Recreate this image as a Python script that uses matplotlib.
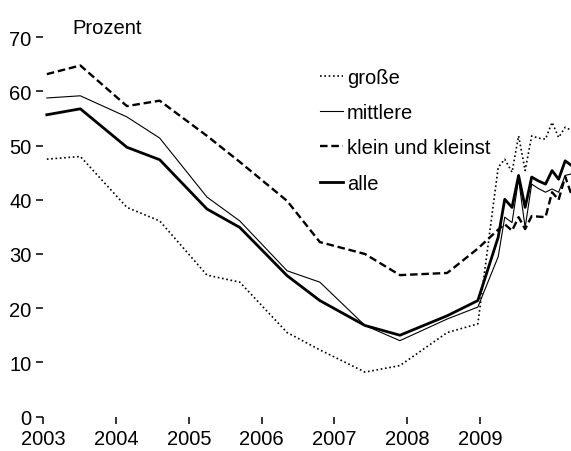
import matplotlib
matplotlib.use("Agg")
import matplotlib.pyplot as plt

# survey dates as decimal years: half-yearly up to 2008, monthly after that
dates = [2003.05, 2003.51, 2004.15, 2004.60, 2005.25, 2005.70, 2006.35, 2006.80,
         2007.42, 2007.90, 2008.55, 2008.97,
         2009.25, 2009.34, 2009.44, 2009.53, 2009.62, 2009.71, 2009.80, 2009.90,
         2009.99, 2010.08, 2010.17, 2010.26]

grosse = [47.5, 48.0, 38.6, 36.1, 26.1, 24.8, 15.5, 12.3, 8.2, 9.4, 15.5, 17.1,
          46.0, 47.5, 45.1, 51.8, 45.4, 51.8, 51.4, 51.2, 54.3, 51.5, 53.4, 52.8]
mittlere = [58.8, 59.2, 55.3, 51.4, 40.5, 36.1, 26.9, 24.8, 16.8, 14.0, 18.0, 20.2,
            29.5, 36.8, 35.8, 43.8, 34.9, 42.9, 42.1, 41.4, 42.0, 41.4, 44.5, 44.8]
klein = [63.2, 64.8, 57.3, 58.3, 51.8, 47.0, 39.8, 32.2, 30.0, 26.1, 26.5, 31.0,
         34.5, 35.5, 34.3, 36.8, 34.6, 37.0, 36.9, 36.8, 41.4, 40.0, 44.3, 40.8]
alle = [55.7, 56.8, 49.7, 47.4, 38.3, 34.9, 26.0, 21.4, 16.8, 15.0, 18.6, 21.4,
        33.1, 40.1, 38.6, 44.5, 38.6, 44.2, 43.5, 42.9, 45.4, 43.8, 47.2, 46.3]

years = [2003, 2004, 2005, 2006, 2007, 2008, 2009]
y_ticks = [0, 10, 20, 30, 40, 50, 60, 70]

plt.rcParams['font.family'] = ['Liberation Sans', 'DejaVu Sans']
plt.rcParams['font.size'] = 14.5

fig = plt.figure(figsize=(5.71, 4.52), dpi=100)
ax = fig.add_axes([43.2 / 571, 34.5 / 452, 1 - 43.2 / 571, 379.2 / 452])

ax.plot(dates, grosse, color='black', lw=1.2, linestyle=(0, (1, 1.6)), label='große')
ax.plot(dates, mittlere, color='black', lw=0.8, label='mittlere')
ax.plot(dates, klein, color='black', lw=1.7, linestyle=(0, (3.2, 1.6)), label='klein und kleinst')
ax.plot(dates, alle, color='black', lw=2.0, label='alle')

ax.set_xlim(2003, 2010.25)
ax.set_ylim(0, 70)
ax.set_xticks(years)
ax.set_yticks(y_ticks)
for s in ax.spines.values():
    s.set_visible(False)
ax.tick_params(axis='y', direction='out', length=5, width=1.1, pad=3.5)
ax.tick_params(axis='x', direction='out', length=5, width=1.1, pad=4)

ax.annotate('Prozent', xy=(0.056, 71.8), xycoords=('axes fraction', 'data'),
            ha='left', va='center', annotation_clip=False)

ax.legend(loc='upper left', bbox_to_anchor=(0.505, 0.945), frameon=False,
          handlelength=1.15, handletextpad=0.2, labelspacing=0.8, borderpad=0,
          fontsize=14.5)

fig.savefig('out.png', dpi=100)
